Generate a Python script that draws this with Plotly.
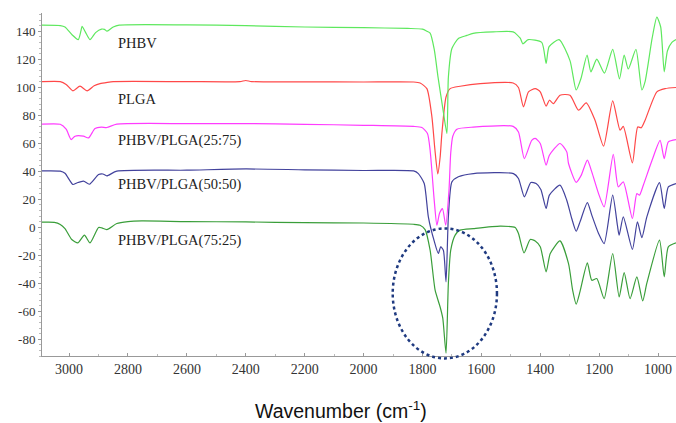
import plotly.graph_objects as go

# ---- data (wavenumber cm-1, transmittance offset) ----
phbv_w = [3092, 3030, 3014, 2990, 2969, 2960, 2956, 2945, 2929, 2910, 2890, 2880, 2871, 2850, 2830,
          2600, 2400, 2200, 2000, 1850, 1800, 1785, 1774, 1760, 1747, 1730, 1717, 1712, 1700, 1678,
          1649, 1628, 1560, 1492, 1468, 1459, 1441, 1395, 1380, 1370, 1336, 1299, 1278, 1262, 1241,
          1228, 1208, 1182, 1154, 1131, 1115, 1101, 1075, 1055, 1044, 1020, 1004, 991, 979, 968, 953, 939]
phbv_v = [144.3, 144, 143, 137.5, 134, 140, 143.5, 139.5, 134, 139, 141.5, 141.3, 140, 143, 144.3,
          144.5, 144, 143, 142.5, 142, 141.5, 140, 138.6, 127, 107, 83.6, 67, 107, 127.6, 134.8,
          137, 138.5, 139.5, 139.5, 135, 131, 134, 132, 117, 129, 134, 119, 98, 106, 123,
          111, 120, 110, 127, 106, 123, 113, 127, 98, 104, 135, 150, 143, 111, 126, 132, 134]

plga_w = [3092, 3030, 3010, 2987, 2963, 2939, 2915, 2895, 2870, 2850, 2600, 2420, 2400, 2380, 2200,
          2000, 1830, 1808, 1785, 1768, 1758, 1748, 1740, 1734, 1720, 1706, 1672, 1604, 1492, 1474,
          1457, 1440, 1417, 1400, 1380, 1369, 1355, 1333, 1299, 1270, 1244, 1214, 1185, 1154, 1129,
          1118, 1087, 1069, 1057, 1044, 1004, 976, 939]
plga_v = [104, 104, 102, 97.4, 100.7, 97.4, 101, 102.6, 103.5, 104, 104, 104, 104.8, 104, 103.8,
          103.7, 103.7, 103, 99, 79, 56, 38, 50, 67, 93, 99, 100.7, 102.6, 103, 99.8,
          86, 96.7, 99, 96.7, 86.4, 90.7, 88.3, 94.3, 94.3, 83.6, 88.8, 76.4, 57.9, 90.2, 69.3,
          72, 46, 71.6, 71, 76.4, 96.7, 99, 99.8]

b2575_w = [3092, 3030, 3010, 2993, 2980, 2951, 2934, 2912, 2890, 2872, 2838, 2600, 2400, 2200, 2000,
           1830, 1802, 1783, 1774, 1760, 1751, 1742, 1732, 1721, 1710, 1704, 1697, 1683, 1628, 1492,
           1474, 1454, 1429, 1417, 1400, 1380, 1369, 1333, 1310, 1304, 1278, 1261, 1240, 1225, 1202,
           1183, 1152, 1135, 1118, 1087, 1072, 1063, 1050, 1020, 993, 979, 965, 939]
b2575_v = [73.6, 73.5, 70, 62.6, 65, 65, 63.8, 70.5, 71.5, 71.2, 73.6, 74, 74, 73.5, 72.8,
           72, 71.2, 67, 55, 19, 1.4, 10, 13.3, 1.4, 26, 53, 65, 70, 71.5, 72,
           68, 49, 62, 63.4, 59.8, 44.3, 51.4, 59.8, 53.8, 45.5, 32, 37, 47.9, 39.5, 24,
           14.5, 52, 28.8, 32.4, 6.2, 24, 22.9, 30, 48, 62, 49, 61, 62.6]

b5050_w = [3092, 3030, 3014, 2987, 2974, 2951, 2931, 2900, 2885, 2872, 2838, 2600, 2400, 2200, 2000,
           1830, 1814, 1794, 1780, 1760, 1746, 1738, 1729, 1720, 1712, 1700, 1678, 1627, 1491, 1474,
           1454, 1432, 1414, 1398, 1380, 1369, 1333, 1310, 1293, 1278, 1265, 1240, 1225, 1202, 1183,
           1154, 1138, 1132, 1118, 1087, 1070, 1055, 1038, 995, 979, 965, 939]
b5050_v = [40.2, 40, 38.5, 30.5, 31.6, 32.9, 30.7, 37.6, 38, 36.7, 40, 40.7, 41.6, 41, 40.5,
           40.2, 38.3, 31.2, 7.4, -10, -18.8, -14, -16.4, -39, 7.4, 32.4, 36, 38.3, 38.3, 34.8,
           21.7, 31.9, 31.2, 26.9, 13.4, 22.9, 30, 19.3, 6.2, -2.9, 3.8, 17.6, 8.6, -4.5, -11.7,
           22.9, 1.4, -5.7, 7.4, -15.9, 3.8, -7.4, 7.4, 31.9, 13.4, 28.8, 31.2]

b7525_w = [3092, 3050, 3030, 3014, 2991, 2970, 2948, 2929, 2900, 2889, 2872, 2838, 2800, 2753, 2600,
           2400, 2200, 2000, 1830, 1808, 1791, 1774, 1757, 1740, 1731, 1720, 1712, 1704, 1689, 1672,
           1627, 1536, 1485, 1474, 1455, 1434, 1417, 1400, 1380, 1366, 1333, 1304, 1290, 1278, 1265,
           1240, 1225, 1208, 1183, 1154, 1132, 1115, 1095, 1072, 1052, 1038, 995, 979, 965, 939]
b7525_v = [3.6, 3.5, 2, -1, -8.8, -11.2, -5.7, -11.2, -0.2, -0.5, -1.7, 2.6, 4, 4.5, 4,
           3.8, 3.2, 3, 2.1, 1.4, -1.7, -16.4, -45, -57, -65, -90, -40, -16.4, -5.7, -2.1,
           -1, 0.7, -0.2, -4.5, -18.3, -8.8, -9.8, -14, -31.9, -18.8, -9.8, -26, -45, -55, -46,
           -25.5, -37.9, -36.7, -51, -18.8, -49.8, -32.4, -51, -35.5, -52.6, -40, -9.3, -35.5, -14, -11.2]

series = [
    ("PHBV/PLGA(75:25)", b7525_w, b7525_v, "#3a9e3a", -9.3),
    ("PHBV/PLGA(50:50)", b5050_w, b5050_v, "#42429c", 30.7),
    ("PHBV/PLGA(25:75)", b2575_w, b2575_v, "#ff3cff", 62.1),
    ("PLGA", plga_w, plga_v, "#ff4848", 91.4),
    ("PHBV", phbv_w, phbv_v, "#5ee85e", 131.4),
]
label_x = 2840

x_ticks = [3000, 2800, 2600, 2400, 2200, 2000, 1800, 1600, 1400, 1200, 1000]
y_ticks = [-80, -60, -40, -20, 0, 20, 40, 60, 80, 100, 120, 140]

fig = go.Figure()
for name, w, v, col, ly in series:
    fig.add_trace(go.Scatter(x=w, y=v, mode="lines", name=name,
                             line=dict(color=col, width=1.2, shape="spline", smoothing=0.6)))
    fig.add_annotation(x=label_x, y=ly, text=name, showarrow=False, xanchor="left", yanchor="middle",
                       font=dict(family="Liberation Serif", size=14.5, color="#222"))

# dotted ellipse highlighting the carbonyl band
fig.add_shape(type="circle", xref="x", yref="paper", x0=1901, x1=1547, y0=-0.007, y1=0.372,
              line=dict(color="#1f3a80", width=2.5, dash="dot"))

fig.add_annotation(xref="paper", yref="paper", x=0.471, y=-0.157, text="Wavenumber (cm<sup>-1</sup>)",
                   showarrow=False, xanchor="center", yanchor="middle",
                   font=dict(family="Liberation Sans", size=19.5, color="#111"))

fig.update_layout(
    width=676, height=423,
    margin=dict(l=42, r=0, t=13, b=67),
    paper_bgcolor="white", plot_bgcolor="white",
    showlegend=False,
    xaxis=dict(range=[3092, 939], tickvals=x_ticks, ticktext=[str(t) for t in x_ticks],
               showgrid=False, zeroline=False, showline=True, linecolor="#999", linewidth=1,
               ticks="inside", ticklen=3, tickcolor="#999",
               minor=dict(dtick=100, ticks="inside", ticklen=2, tickcolor="#bbb"),
               tickfont=dict(family="Liberation Serif", size=14, color="#333")),
    yaxis=dict(range=[-92, 153], tickvals=y_ticks, ticktext=[str(t) for t in y_ticks],
               showgrid=False, zeroline=False, showline=True, linecolor="#999", linewidth=1,
               ticks="outside", ticklen=3, tickcolor="#999",
               minor=dict(dtick=4, ticks="outside", ticklen=2, tickcolor="#bbb"),
               tickfont=dict(family="Liberation Serif", size=13, color="#333")),
)

fig.write_html("out.html", config={"displayModeBar": False},
               post_script="document.body.style.margin='0';document.body.style.overflow='hidden';")
